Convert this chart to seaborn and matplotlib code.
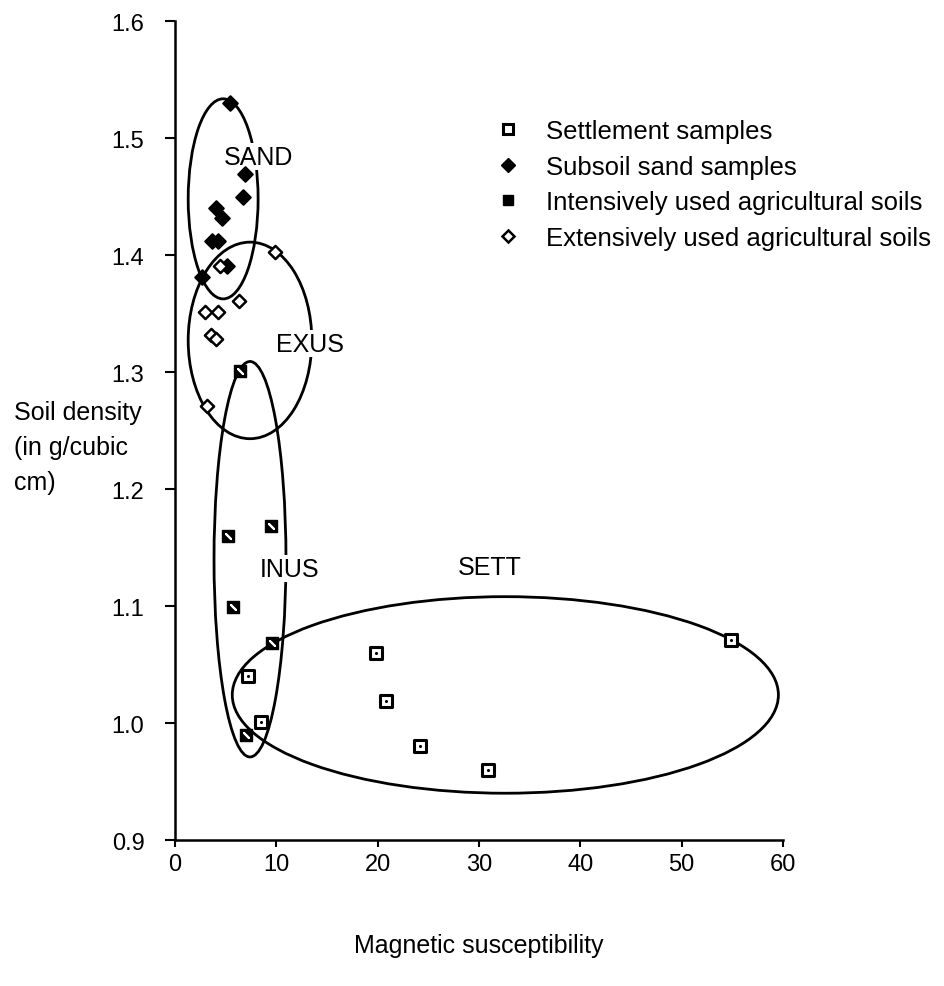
import numpy as np
import pandas as pd
import matplotlib
matplotlib.use("Agg")
import matplotlib.pyplot as plt
from matplotlib.patches import Ellipse
from matplotlib.lines import Line2D
import seaborn as sns

# ---- data ----
sett_x = [19.8, 20.8, 24.2, 30.9, 54.9, 7.2, 8.5]
sett_y = [1.060, 1.019, 0.980, 0.960, 1.071, 1.040, 1.001]

sand_x = [5.4, 6.9, 6.7, 4.05, 4.6, 3.65, 4.25, 5.1, 2.7]
sand_y = [1.530, 1.469, 1.450, 1.440, 1.432, 1.412, 1.412, 1.391, 1.381]

inus_x = [6.4, 5.2, 9.5, 5.7, 9.6, 7.0]
inus_y = [1.301, 1.160, 1.168, 1.099, 1.068, 0.990]

exus_x = [9.9, 4.4, 6.3, 3.0, 4.2, 3.6, 4.0, 3.15]
exus_y = [1.403, 1.391, 1.361, 1.351, 1.351, 1.332, 1.328, 1.271]

legend_labels = ["Settlement samples", "Subsoil sand samples",
                 "Intensively used agricultural soils",
                 "Extensively used agricultural soils"]

group_names = ["SAND", "EXUS", "INUS", "SETT"]
group_cx = [4.75, 7.4, 7.4, 32.6]
group_cy = [1.448, 1.327, 1.140, 1.024]
group_w = [6.9, 12.2, 7.1, 53.9]
group_h = [0.171, 0.168, 0.338, 0.168]
label_x = [8.2, 13.3, 11.35, 31.1]
label_y = [1.484, 1.324, 1.132, 1.133]

y_title_lines = ["Soil density", "(in g/cubic", "cm)"]

x_ticks = [0, 10, 20, 30, 40, 50, 60]
y_ticks = [0.9, 1.0, 1.1, 1.2, 1.3, 1.4, 1.5, 1.6]

# ---- plotting ----
sns.set_style("ticks")
plt.rcParams["font.family"] = ["Liberation Sans", "DejaVu Sans"]
plt.rcParams["text.color"] = "black"
plt.rcParams["axes.labelcolor"] = "black"

FS = 18
LFS = 18.5

fig = plt.figure(figsize=(9.44, 9.87), dpi=100)
ax = fig.add_axes([0.1854, 0.1479, 0.644, 0.8298])

for cx, cy, w, h in zip(group_cx, group_cy, group_w, group_h):
    ax.add_patch(Ellipse((cx, cy), w, h, fill=False, lw=2.0, ec="black", zorder=2))

for name, lx, ly in zip(group_names, label_x, label_y):
    ax.text(lx, ly, name, fontsize=FS, ha="center", va="center", zorder=3,
            color="black", bbox=dict(facecolor="white", edgecolor="none", pad=1.0))

df_sett = pd.DataFrame({"x": sett_x, "y": sett_y})
df_sand = pd.DataFrame({"x": sand_x, "y": sand_y})
df_inus = pd.DataFrame({"x": inus_x, "y": inus_y})
df_exus = pd.DataFrame({"x": exus_x, "y": exus_y})

sns.scatterplot(data=df_sett, x="x", y="y", marker="s", s=70, color="white",
                edgecolor="black", linewidth=2.2, ax=ax, zorder=4, legend=False)
sns.scatterplot(data=df_sett, x="x", y="y", marker="o", s=5, color="black",
                edgecolor="black", linewidth=0, ax=ax, zorder=5, legend=False)
sns.scatterplot(data=df_sand, x="x", y="y", marker="D", s=55, color="black",
                edgecolor="black", linewidth=1.5, ax=ax, zorder=4, legend=False)
sns.scatterplot(data=df_inus, x="x", y="y", marker="s", s=70, color="black",
                edgecolor="black", linewidth=1, ax=ax, zorder=4, legend=False)
sns.scatterplot(data=df_inus, x="x", y="y", marker=(2, 2, 45), s=25, color="white",
                linewidth=1.5, ax=ax, zorder=5, legend=False)
sns.scatterplot(data=df_exus, x="x", y="y", marker="D", s=45, color="white",
                edgecolor="black", linewidth=1.8, ax=ax, zorder=4, legend=False)

ax.set_xlim(0, 60)
ax.set_ylim(0.9, 1.6)
ax.set_xticks(x_ticks)
ax.set_xticklabels([str(t) for t in x_ticks])
ax.set_yticks(y_ticks)
ax.set_yticklabels([f"{t:.1f}" for t in y_ticks])
ax.tick_params(axis="both", direction="out", width=1.5, labelsize=17,
               colors="black")
ax.tick_params(axis="y", pad=15, length=7)
ax.tick_params(axis="x", pad=4, length=5)
for side in ["top", "right"]:
    ax.spines[side].set_visible(False)
for side in ["left", "bottom"]:
    ax.spines[side].set_linewidth(1.8)
    ax.spines[side].set_color("black")

ax.set_xlabel("Magnetic susceptibility", fontsize=FS, labelpad=42)
ax.set_ylabel("")
for line, yy in zip(y_title_lines, [0.5226, 0.4799, 0.4371]):
    ax.text(-0.265, yy, line, transform=ax.transAxes, fontsize=FS,
            ha="left", va="center", color="black")

handles = [
    Line2D([], [], ls="none", marker="s", ms=7.5, mfc="white", mec="black", mew=2.2),
    Line2D([], [], ls="none", marker="D", ms=7, mfc="black", mec="black"),
    Line2D([], [], ls="none", marker="s", ms=7, mfc="black", mec="black"),
    Line2D([], [], ls="none", marker="D", ms=6, mfc="white", mec="black", mew=1.8),
]
ax.legend(handles, legend_labels, loc="upper left", bbox_to_anchor=(0.526, 0.880),
          frameon=False, fontsize=LFS, handlelength=1.0, handletextpad=1.0,
          labelspacing=0.45, borderpad=0, borderaxespad=0)

fig.savefig("out.png", dpi=100, facecolor="white")
